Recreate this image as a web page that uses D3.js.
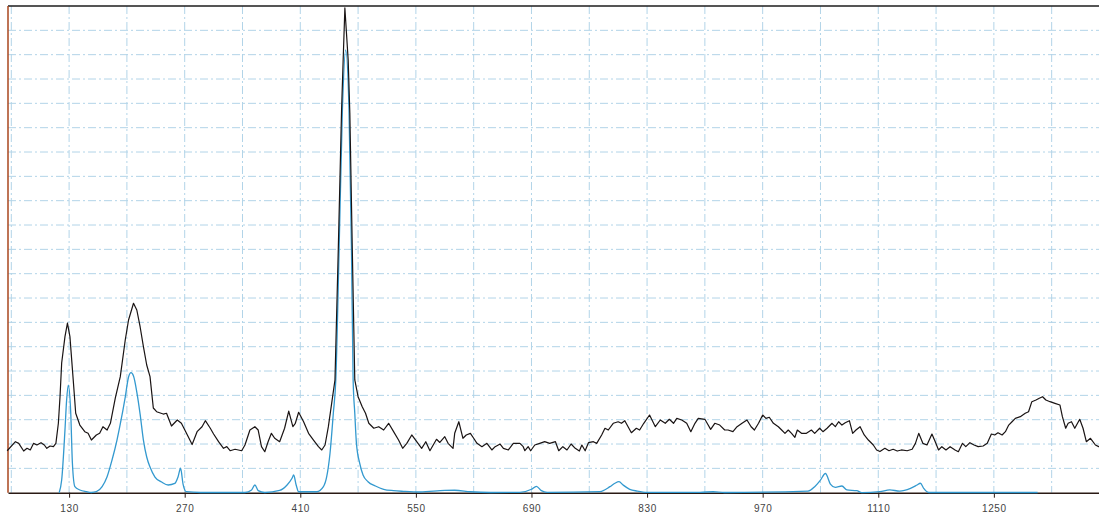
<!DOCTYPE html>
<html>
<head>
<meta charset="utf-8">
<script src="https://cdn.jsdelivr.net/npm/d3@7"></script>
<style>
  body { margin: 0; background: #fff; }
  svg { display: block; }
</style>
</head>
<body>
<div id="chart"></div>
<script>
// measured spectrum (black), wavenumber / intensity
var measuredX = [55,65,69,75,79,83,87,91,96,100,103,107,111,114,117,119,121,125,128,131,135,138,143,149,153,157,163,167,171,176,180,186,192,198,202,208,212,216,220,224,228,232,236,244,248,254,261,266,272,279,285,291,295,301,305,311,317,321,325,331,339,343,349,355,359,363,367,371,375,379,385,391,396,401,404,408,414,420,426,432,436,440,444,448,452,456,460,462,464,468,470,473,476,480,485,489,493,499,505,511,517,523,529,534,539,545,551,557,562,567,571,575,579,585,589,595,597,602,607,611,616,620,624,630,636,642,646,652,656,662,668,676,680,682,686,689,694,700,706,712,719,723,728,733,738,743,748,751,755,759,765,769,775,779,783,789,795,799,803,811,817,821,826,833,840,846,852,857,862,866,872,878,883,888,892,900,904,907,912,918,924,928,934,939,945,951,956,960,965,970,974,978,983,989,993,997,1001,1005,1009,1012,1017,1023,1029,1033,1039,1043,1048,1054,1058,1062,1066,1070,1075,1079,1083,1088,1093,1098,1104,1108,1112,1118,1123,1128,1133,1138,1145,1151,1155,1159,1164,1169,1175,1179,1183,1187,1192,1197,1203,1207,1212,1216,1221,1226,1231,1237,1242,1247,1251,1255,1260,1264,1268,1272,1276,1282,1288,1292,1296,1301,1305,1309,1313,1318,1324,1330,1333,1337,1340,1344,1348,1354,1358,1362,1367,1373,1377,1382];
var measuredY = [43.1,52.4,50.7,42.8,45.6,43.9,50.7,49,51.4,49,45.6,48,47.3,50.7,71.3,98.6,133.2,160.3,174.3,160.3,115.8,81.6,69.5,62.7,61,54.1,59.3,61,67.8,64.4,71.3,97.3,119.2,156.9,177.4,194.6,187.7,170.5,150,131.2,119.2,87,83.2,80.8,81.6,68.5,74.7,71.3,61.3,49.5,62.7,67.8,74,66.2,60.3,52.4,45.6,47.3,43.1,44.6,43.1,49,64.4,67.8,64.4,47.3,42.1,52.4,61,55.9,52.4,66.2,83.9,67.8,71.3,82.6,72.9,61,54.1,47.3,43.9,49,67.8,91.8,115.8,249.3,393.1,446.6,498,444.5,390.1,249.3,115.8,98.6,88.3,81.6,71.3,66.2,67.8,64.4,71.3,62.7,54.1,45.6,50.7,59.3,52.4,45.6,52.4,43.1,49,54.9,51.6,57.5,50.7,45.6,61,72.9,55.9,59.3,61,55.9,50.7,47.3,50.7,43.9,47.3,50,45.6,43.9,50.7,50.7,47.3,43.1,47.3,43.1,49,50.7,52.4,50.7,52.4,43.1,47.3,43.9,50,45.6,42.8,49,43.1,51.4,52.4,50.7,59.3,66.2,64.4,71.3,72.9,71.3,74,61.6,66.2,64.4,71.3,79.8,67.8,74.7,71.3,75.4,71.3,76.4,74.7,71.3,62.7,71.3,76.4,75.4,69.5,65.1,71.3,69.5,64.4,64.4,62.7,67.8,71.3,74.7,67.8,64.4,71.3,79.8,76.4,77.5,71.3,67.8,64.4,61,64.4,61,56.9,64.4,61,61,64.4,61,66.2,62.7,66.2,71.3,67.8,72.9,69.5,71.9,74,61,64.4,67.8,59.3,54.1,49,43.9,42.3,45.6,43.1,44.6,42.8,43.9,43.1,44.6,50.7,61,50.7,49,60.3,52.4,43.9,47.3,43.9,47.3,43.9,42.1,50.7,47.3,51.4,49,47.3,48,50.7,60.3,59.3,61.6,59.3,62.7,69.5,72.9,76.4,78.1,81.6,83.2,93.5,95.2,97,98.6,95.2,93.5,91.8,90.1,78.1,66.2,71.3,72.9,66.2,75.4,66.2,52.4,55.9,49,47.3,47];

// reference spectrum (blue)
var referenceX = [118,121,125,127,129,132,134,137,143,151,157,163,170,176,182,188,192,198,202,205,208,212,216,220,224,228,234,242,250,258,262,265,268,272,289,343,351,355,359,367,385,394,400,402,405,408,430,438,442,446,450,453,457,461,465,469,472,474,476,478,482,486,492,501,511,523,535,555,585,597,616,640,676,690,696,702,709,773,785,791,796,801,809,818,830,894,910,924,1025,1033,1040,1046,1052,1058,1066,1072,1084,1090,1112,1124,1136,1149,1157,1161,1165,1171,1303];
var referenceY = [0,13,64.4,95.2,110.6,81.6,30.2,6.2,2.8,1,0.2,1,6.2,16.4,33.6,54.1,70.6,98.3,118.9,123.3,119.9,103.4,80.8,54.1,36.7,26.4,16.1,11,7.9,9.5,16.4,25.1,8.9,1,0.2,0.2,2.8,7.9,2.1,0.2,2.3,7.9,14.8,18.2,7.9,1,1,6.2,16.4,40.5,81.6,115.8,249.3,393.1,454.8,393.1,249.3,115.8,81.6,50.7,30.2,18.2,11.3,6.9,3.5,2.1,1.4,0.7,2.3,2.5,1,0.2,0.4,3.5,6.6,2.1,0.4,1.2,6.2,9.7,11.3,7.9,3.5,1.7,0.4,0.4,1,0.2,1.7,6.2,13,19.7,8.9,5.5,6.9,2.8,2.1,0,1,2.8,1.7,4.5,7.9,9.7,4.5,0.2,0.2];

var xTicks = [130, 270, 410, 550, 690, 830, 970, 1110, 1250];
var xGrid = d3.range(60, 1381, 70);
var yGrid = d3.range(25, 500, 25);

var w = 1099;
var h = 513;
var plotLeft = 8, plotTop = 6, plotBottom = 492.7;

var x = d3.scaleLinear().domain([56, 1380]).range([plotLeft, 1101.2]);
var y = d3.scaleLinear().domain([0, 500]).range([plotBottom, plotTop]);

var svg = d3.select("#chart")
  .append("svg")
  .attr("width", w)
  .attr("height", h);

// grid
svg.selectAll(".hgrid")
  .data(yGrid)
  .enter()
  .append("line")
  .attr("class", "hgrid")
  .attr("x1", plotLeft)
  .attr("x2", w)
  .attr("y1", (d) => y(d))
  .attr("y2", (d) => y(d))
  .attr("stroke", "#b2d4e8")
  .attr("stroke-width", 1)
  .attr("stroke-dasharray", "8,3,2,3");

svg.selectAll(".vgrid")
  .data(xGrid)
  .enter()
  .append("line")
  .attr("class", "vgrid")
  .attr("x1", (d) => x(d))
  .attr("x2", (d) => x(d))
  .attr("y1", plotTop)
  .attr("y2", plotBottom)
  .attr("stroke", "#b2d4e8")
  .attr("stroke-width", 1)
  .attr("stroke-dasharray", "8,3,2,3");

// frame
svg.append("line")
  .attr("x1", plotLeft).attr("x2", w)
  .attr("y1", plotTop).attr("y2", plotTop)
  .attr("stroke", "#1c1c1c")
  .attr("stroke-width", 1.5);

svg.append("line")
  .attr("x1", plotLeft).attr("x2", plotLeft)
  .attr("y1", plotTop).attr("y2", plotBottom)
  .attr("stroke", "#a8461e")
  .attr("stroke-width", 1.5);

// x axis
var xAxis = d3.axisBottom(x)
  .tickValues(xTicks)
  .tickSize(5)
  .tickSizeOuter(0)
  .tickFormat(d3.format("d"));

var gx = svg.append("g")
  .attr("transform", "translate(0," + plotBottom + ")")
  .call(xAxis);

gx.select(".domain")
  .attr("stroke", "#2a1a14")
  .attr("stroke-width", 1.5);
gx.selectAll(".tick line").attr("stroke", "#2a1a14");
gx.selectAll(".tick text")
  .attr("y", 12)
  .attr("fill", "#444")
  .attr("font-family", "Liberation Sans, Arial, sans-serif")
  .attr("font-size", "10px")
  .attr("letter-spacing", "0.6px");

// series
var blueLine = d3.line()
  .x((d, i) => x(referenceX[i]))
  .y((d) => y(d))
  .curve(d3.curveMonotoneX);

svg.append("path")
  .datum(referenceY)
  .attr("d", blueLine)
  .attr("fill", "none")
  .attr("stroke", "#3399cf")
  .attr("stroke-width", 1.3);

var blackLine = d3.line()
  .x((d, i) => x(measuredX[i]))
  .y((d) => y(d));

svg.append("path")
  .datum(measuredY)
  .attr("d", blackLine)
  .attr("fill", "none")
  .attr("stroke", "#1a1414")
  .attr("stroke-width", 1.2)
  .attr("stroke-linejoin", "round");
</script>
</body>
</html>
